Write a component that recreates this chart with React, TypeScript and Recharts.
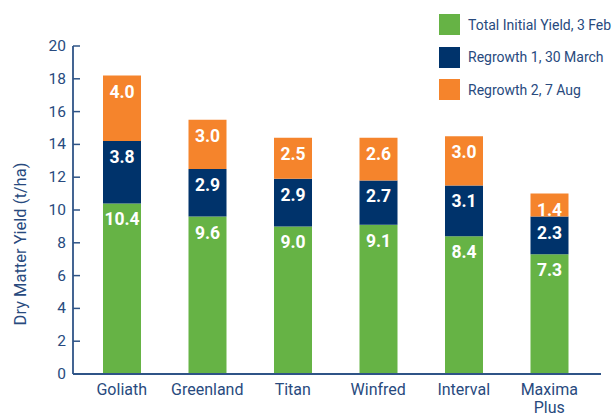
import { Bar, BarChart, LabelList, Legend, XAxis, YAxis } from 'recharts'

const varieties = ['Goliath', 'Greenland', 'Titan', 'Winfred', 'Interval', 'Maxima Plus']
const initialYield = [10.4, 9.6, 9.0, 9.1, 8.4, 7.3]
const regrowth1 = [3.8, 2.9, 2.9, 2.7, 3.1, 2.3]
const regrowth2 = [4.0, 3.0, 2.5, 2.6, 3.0, 1.4]
const yTicks = [0, 2, 4, 6, 8, 10, 12, 14, 16, 18, 20]

const seriesNames = ['Total Initial Yield, 3 Feb', 'Regrowth 1, 30 March', 'Regrowth 2, 7 Aug']
const seriesColors = ['#66b345', '#00336b', '#f5842c']

const data = varieties.map((name, i) => ({
  name,
  initial: initialYield[i],
  regrowth1: regrowth1[i],
  regrowth2: regrowth2[i],
}))

const FONT = 'Roboto, "Noto Sans", sans-serif'
const AXIS_BLUE = '#2f5487'
const TEXT_BLUE = '#284a7e'

// white value printed just under the top of each segment
const renderValue = (props: any) => {
  const { x, y, width, value } = props
  return (
    <text
      x={x + width / 2}
      y={y + 22}
      textAnchor="middle"
      fill="#ffffff"
      fontFamily={FONT}
      fontWeight="bold"
      fontSize={17.5}
    >
      {Number(value).toFixed(1)}
    </text>
  )
}

const CategoryTick = (props: any) => {
  const { x, y, payload } = props
  const lines = String(payload.value).split(' ')
  return (
    <text x={x} y={y} textAnchor="middle" fill={TEXT_BLUE} fontFamily={FONT} fontSize={16}>
      {lines.map((line, i) => (
        <tspan key={i} x={x} dy={i === 0 ? 21 : 18}>
          {line}
        </tspan>
      ))}
    </text>
  )
}

// ticks point into the plot, labels sit left of the axis
const ValueTick = (props: any) => {
  const { x, y, payload } = props
  return (
    <g>
      <line x1={x} y1={y} x2={x + 7} y2={y} stroke={AXIS_BLUE} strokeWidth={1.5} />
      <text x={x - 7} y={y + 5} textAnchor="end" fill={TEXT_BLUE} fontFamily={FONT} fontSize={15.5}>
        {payload.value}
      </text>
    </g>
  )
}

const AxisTitle = (props: any) => {
  const { viewBox } = props
  const cx = viewBox.x + 20
  const cy = viewBox.y + viewBox.height / 2 + 34
  return (
    <text
      transform={`translate(${cx},${cy}) rotate(-90)`}
      textAnchor="middle"
      dominantBaseline="central"
      fill={TEXT_BLUE}
      fontFamily={FONT}
      fontSize={16.5}
    >
      Dry Matter Yield (t/ha)
    </text>
  )
}

const LegendBox = () => (
  <div style={{ fontFamily: FONT, fontSize: 14, color: TEXT_BLUE }}>
    {seriesNames.map((name, i) => (
      <div key={name} style={{ display: 'flex', alignItems: 'center', height: 21, marginBottom: 11.5 }}>
        <div style={{ width: 21, height: 21, flexShrink: 0, background: seriesColors[i], marginRight: 8 }} />
        <span style={{ whiteSpace: 'nowrap' }}>{name}</span>
      </div>
    ))}
  </div>
)

export default function App() {
  return (
    <div style={{ position: 'absolute', left: 0, top: 0, background: '#ffffff' }}>
      <BarChart
        width={612}
        height={416}
        data={data}
        margin={{ top: 46, right: 11, left: 0, bottom: 0 }}
      >
        <XAxis
          dataKey="name"
          height={42}
          interval={0}
          padding={{ left: 6, right: 9 }}
          stroke={AXIS_BLUE}
          strokeWidth={1.8}
          tickLine={false}
          tickSize={0}
          tickMargin={0}
          tick={<CategoryTick />}
        />
        <YAxis
          width={73}
          domain={[0, 20]}
          ticks={yTicks}
          interval={0}
          stroke={AXIS_BLUE}
          strokeWidth={1.8}
          tickLine={false}
          tickSize={0}
          tickMargin={0}
          tick={<ValueTick />}
          label={<AxisTitle />}
        />
        <Legend
          layout="horizontal"
          verticalAlign="middle"
          content={<LegendBox />}
          wrapperStyle={{ position: 'absolute', top: 14, left: 439, width: 173 }}
        />
        <Bar dataKey="initial" name={seriesNames[0]} stackId="a" fill={seriesColors[0]} barSize={38} isAnimationActive={false}>
          <LabelList dataKey="initial" content={renderValue} />
        </Bar>
        <Bar dataKey="regrowth1" name={seriesNames[1]} stackId="a" fill={seriesColors[1]} barSize={38} isAnimationActive={false}>
          <LabelList dataKey="regrowth1" content={renderValue} />
        </Bar>
        <Bar dataKey="regrowth2" name={seriesNames[2]} stackId="a" fill={seriesColors[2]} barSize={38} isAnimationActive={false}>
          <LabelList dataKey="regrowth2" content={renderValue} />
        </Bar>
      </BarChart>
    </div>
  )
}
